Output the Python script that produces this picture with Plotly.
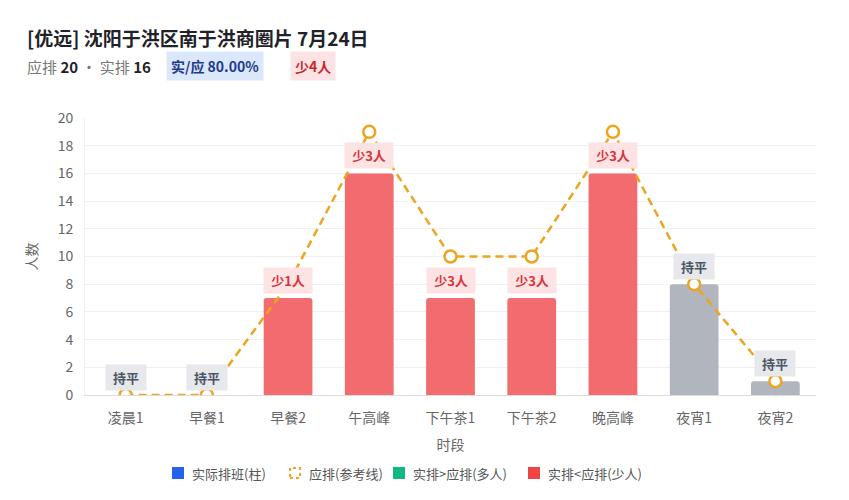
import plotly.graph_objects as go

# data
slots = ['凌晨1', '早餐1', '早餐2', '午高峰', '下午茶1', '下午茶2', '晚高峰', '夜宵1', '夜宵2']
actual = [0, 0, 7, 16, 7, 7, 16, 8, 1]
expected = [0, 0, 8, 19, 10, 10, 19, 8, 1]
total_expected = 20
total_actual = 16

FONT = 'Noto Sans CJK SC, Noto Sans, sans-serif'
RED_BAR = '#f26b6e'
GRAY_BAR = '#b1b5be'
GREEN_BAR = '#10b981'
ORANGE = '#eea420'

# page has an 8px body margin; work in screen pixels and shift
OFF = 8
W, H = 849 - 2 * OFF, 500 - 2 * OFF
L, R, T, B = 85 - OFF, 816 - OFF, 118 - OFF, 395 - OFF


def px(x):
    return (x - OFF - L) / (R - L)


def py(y):
    return (B - (y - OFF)) / (B - T)


bar_colors = []
labels = []
label_bg = []
label_fg = []
for a, e in zip(actual, expected):
    d = a - e
    if d < 0:
        bar_colors.append(RED_BAR)
        labels.append(f'少{-d}人')
        label_bg.append('#fde3e4')
        label_fg.append('#d8343c')
    elif d > 0:
        bar_colors.append(GREEN_BAR)
        labels.append(f'多{d}人')
        label_bg.append('#d1fae5')
        label_fg.append('#047857')
    else:
        bar_colors.append(GRAY_BAR)
        labels.append('持平')
        label_bg.append('#e6e8ec')
        label_fg.append('#4b5563')

fig = go.Figure()
fig.add_trace(go.Bar(x=slots, y=actual, marker=dict(color=bar_colors, line=dict(width=0)),
                     width=0.6, hoverinfo='x+y', showlegend=False))
fig.add_trace(go.Scatter(x=slots, y=expected, mode='lines+markers',
                         line=dict(color=ORANGE, width=2.5, dash='8px,5px'),
                         marker=dict(size=12, color='white', line=dict(color=ORANGE, width=2.5)),
                         showlegend=False))

annotations = []
for s, a, t, bg, fg in zip(slots, actual, labels, label_bg, label_fg):
    w = sum(8 if ch.isdigit() else 13 for ch in t) + 8
    annotations.append(dict(x=s, y=a, text=f'<b>{t}</b>', showarrow=False, yanchor='bottom',
                            yshift=4, bgcolor=bg, borderpad=3, width=w,
                            font=dict(size=13, color=fg, family=FONT)))

# header
pct = total_actual / total_expected * 100
short = total_expected - total_actual
annotations += [
    dict(xref='paper', yref='paper', x=px(25), y=py(38), xanchor='left', yanchor='middle',
         text='<b>[优远] 沈阳于洪区南于洪商圈片 7月24日</b>', showarrow=False,
         font=dict(size=19, color='#1f2329', family=FONT)),
    dict(xref='paper', yref='paper', x=px(25), y=py(66), xanchor='left', yanchor='middle',
         text=f'应排 <b><span style="color:#1f2329">{total_expected}</span></b> · 实排 '
              f'<b><span style="color:#1f2329">{total_actual}</span></b>',
         showarrow=False, font=dict(size=15, color='#777', family=FONT)),
    dict(xref='paper', yref='paper', x=px(166), y=py(66), xanchor='left', yanchor='middle',
         text=f'<b>实/应 {pct:.2f}%</b>', showarrow=False, bgcolor='#dbe7fb', borderpad=4,
         font=dict(size=14, color='#1e3a8a', family=FONT)),
    dict(xref='paper', yref='paper', x=px(290), y=py(66), xanchor='left', yanchor='middle',
         text=f'<b>少{short}人</b>', showarrow=False, bgcolor='#fde3e4', borderpad=4,
         font=dict(size=14, color='#c8262e', family=FONT)),
]

# legend (drawn by hand)
legend_items = [
    ('实际排班(柱)', 172, '#2563eb', 'solid'),
    ('应排(参考线)', 289, ORANGE, 'dash'),
    ('实排>应排(多人)', 393, GREEN_BAR, 'solid'),
    ('实排<应排(少人)', 528, '#ef4444', 'solid'),
]
shapes = []
for name, x0, col, kind in legend_items:
    if kind == 'solid':
        shapes.append(dict(type='rect', xref='paper', yref='paper', x0=px(x0), x1=px(x0 + 12),
                           y0=py(479), y1=py(467), fillcolor=col, line=dict(width=0)))
    else:
        shapes.append(dict(type='rect', xref='paper', yref='paper', x0=px(x0 + 1), x1=px(x0 + 11),
                           y0=py(478), y1=py(468), fillcolor='white',
                           line=dict(color=col, width=2, dash='dot')))
    annotations.append(dict(xref='paper', yref='paper', x=px(x0 + 18), y=py(473), xanchor='left',
                            yanchor='middle', text=name, showarrow=False,
                            font=dict(size=13, color='#555', family=FONT)))

fig.update_layout(
    width=W, height=H,
    margin=dict(l=L, r=W - R, t=T, b=H - B),
    paper_bgcolor='white', plot_bgcolor='white',
    font=dict(family=FONT, size=13, color='#666'),
    barcornerradius=3,
    showlegend=False,
    annotations=annotations,
    shapes=shapes,
    xaxis=dict(title=dict(text='时段', font=dict(size=14, color='#666'), standoff=14),
               range=[-0.5, len(slots) - 0.5],
               showline=True, linecolor='#dcdcdc', linewidth=1, ticks='',
               ticklabelstandoff=10,
               tickfont=dict(size=14, color='#666'), showgrid=False),
    yaxis=dict(title=dict(text='人数', font=dict(size=14, color='#666'), standoff=16),
               range=[0, 20], dtick=2, gridcolor='#f0f0f0', zeroline=False,
               ticklabelstandoff=8, showline=True, linecolor='#f0f0f0',
               tickfont=dict(size=14, color='#666'), ticks=''),
)

fig.write_html('out.html')
